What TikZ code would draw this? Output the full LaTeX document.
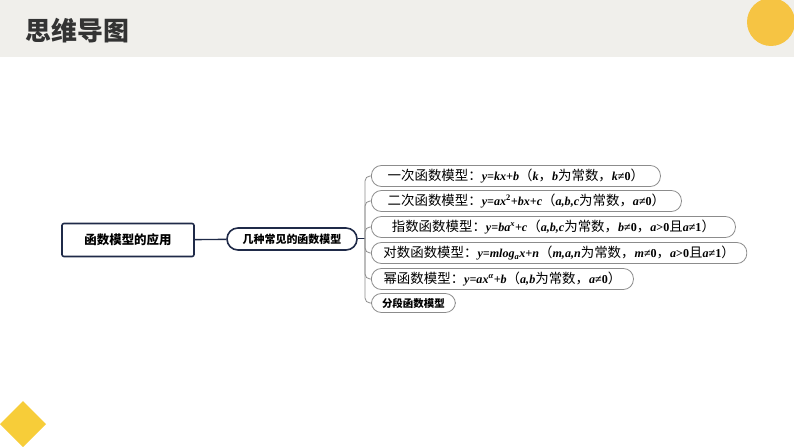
\documentclass[tikz,border=0pt]{standalone}
\usepackage{fontspec}
\setmainfont{Noto Sans CJK SC}
\newfontfamily\latfont[Scale=0.9]{Liberation Serif}
\newcommand{\fm}[1]{{\latfont\bfseries\itshape #1}}
\newcommand{\fd}[1]{{\latfont\bfseries #1}}
\definecolor{navy}{HTML}{1F2A48}
\definecolor{band}{HTML}{F0EFEB}
\definecolor{sun}{HTML}{F6C443}
\definecolor{stem}{HTML}{8C8C8C}
\begin{document}
\begin{tikzpicture}[x=1bp,y=-1bp,line width=1bp,
  root/.style={draw=navy,line width=1.6bp,rounded corners=2bp,minimum width=132bp,minimum height=33bp,font=\bfseries\fontsize{12.5}{14}\selectfont},
  mid/.style={draw=navy,line width=1.6bp,rounded corners=11bp,minimum width=130bp,minimum height=22bp,font=\bfseries\fontsize{11}{13}\selectfont},
  leaf/.style={draw=stem,fill=white,line width=.8bp,rounded corners=10bp,minimum height=21bp,minimum width=#1,inner xsep=12bp,anchor=west,font=\fontsize{13.5}{15}\selectfont},
  leaf/.default=0bp,
  twig/.style={draw=stem,line width=.8bp,rounded corners=5bp}]
  \useasboundingbox (0,0) rectangle (794,447);
  % header band and ornaments
  \fill[band] (0,0) rectangle (794,57);
  \fill[sun] (771,22) circle (24);
  \fill[sun!85!yellow] (0,424) -- (23,401) -- (46,424) -- (23,447) -- cycle;
  \node[anchor=west,text=black!80,font=\bfseries\fontsize{26}{29}\selectfont] (title) at (22,31) {思维导图};
  % mind map
  \node[root] (app) at (128,240) {函数模型的应用};
  \node[mid] (kinds) at (292,239) {几种常见的函数模型};
  \coordinate (hub) at (365,239);
  \node[leaf=289bp] (m1) at (371,176) {一次函数模型：\fm{y=kx+b}（\fm{k}，\fm{b}为常数，\fm{k}\fd{≠0}）};
  \node[leaf=310bp] (m2) at (371,201) {二次函数模型：\fm{y=ax}\textsuperscript{\fd{2}}\fm{+bx+c}（\fm{a,b,c}为常数，\fm{a}\fd{≠0}）};
  \node[leaf=364bp] (m3) at (371,227) {指数函数模型：\fm{y=ba}\textsuperscript{\fm{x}}\fm{+c}（\fm{a,b,c}为常数，\fm{b}\fd{≠0}，\fm{a}\fd{>0}且\fm{a}\fd{≠1}）};
  \node[leaf=375bp] (m4) at (371,253) {对数函数模型：\fm{y=mlog}\textsubscript{\fm{a}}\fm{x+n}（\fm{m,a,n}为常数，\fm{m}\fd{≠0}，\fm{a}\fd{>0}且\fm{a}\fd{≠1}）};
  \node[leaf=262bp] (m5) at (371,279) {幂函数模型：\fm{y=ax}\textsuperscript{\fm{α}}\fm{+b}（\fm{a,b}为常数，\fm{a}\fd{≠0}）};
  \node[leaf=84bp,inner xsep=8bp,minimum height=19bp,font=\bfseries\fontsize{10.5}{12}\selectfont] (m6) at (371,303) {分段函数模型};
  \draw[navy,line width=1.4bp] (app) -- (kinds);
  \draw[navy] (kinds) -- (hub);
  \foreach \i in {1,...,6}
    \draw[twig] (hub) |- (m\i.west);
\end{tikzpicture}
\end{document}
